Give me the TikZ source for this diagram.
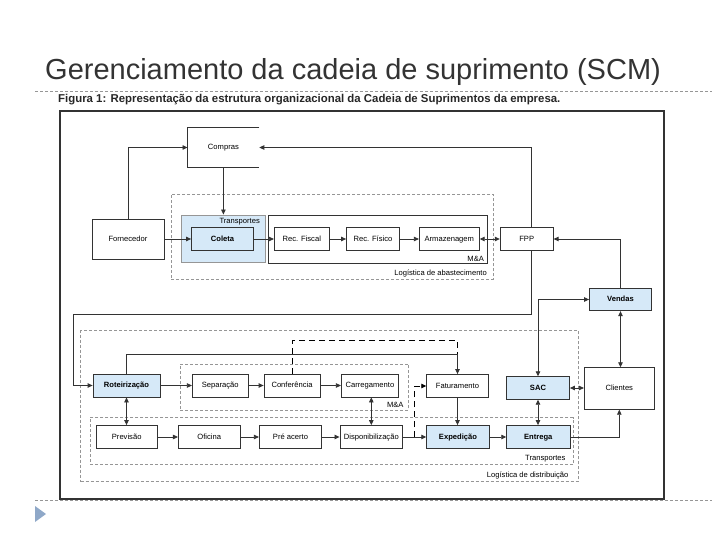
\documentclass[tikz,border=0pt]{standalone}
\usepackage{fontspec}
\setmainfont{Liberation Sans}
\usetikzlibrary{arrows.meta,calc}

\definecolor{azulclaro}{RGB}{214,233,248}
\definecolor{cinzaesc}{RGB}{51,51,51}
\definecolor{cinzatrac}{RGB}{150,150,150}
\definecolor{marcador}{RGB}{143,168,200}

\tikzset{
  seta/.tip={Triangle[length=5pt,width=4.5pt]},
  caixa/.style={draw=cinzaesc, line width=0.8pt, fill=white, inner sep=0pt,
    minimum height=23pt, text height=5.6pt, text depth=1.6pt, font=\fontsize{7.6}{9}\selectfont},
  caixaazul/.style={caixa, fill=azulclaro, font=\fontsize{7.6}{9}\selectfont\bfseries},
  grupo/.style={draw=cinzatrac, dash pattern=on 3pt off 2pt, line width=0.7pt, inner sep=0pt},
  rotulo/.style={font=\fontsize{7.6}{9}\selectfont, inner sep=0pt},
  liga/.style={draw=cinzaesc, line width=0.8pt, -seta},
  ligadupla/.style={draw=cinzaesc, line width=0.8pt, seta-seta},
  tracejado/.style={draw=black, line width=0.8pt, dash pattern=on 6pt off 4pt},
}

\begin{document}
\begin{tikzpicture}[x=1pt,y=-1pt]
	\useasboundingbox (0,0) rectangle (720,540);
	% slide
	\node [anchor=base west, inner sep=0pt, text=cinzaesc, font=\fontsize{29}{34}\selectfont] (titulo) at (45,80) {Gerenciamento da cadeia de suprimento (SCM)};
	\draw [cinzatrac, dash pattern=on 3pt off 2pt, line width=0.6pt] (35,91) -- (712,91);
	\draw [cinzatrac, dash pattern=on 3pt off 2pt, line width=0.6pt] (35,500) -- (712,500);
	\fill [marcador] (35,506) -- (46,514) -- (35,522) -- cycle;
	% figura
	\draw [cinzaesc, line width=1.6pt, fill=white] (60,111) rectangle (664,499);
	\node [anchor=base west, inner sep=0pt, text=black!85, font=\fontsize{11.4}{13}\selectfont\bfseries] (legenda) at (58,103) {Figura 1: Representação da estrutura organizacional da Cadeia de Suprimentos da empresa.};

	% grupos
	\node [grupo, minimum width=322pt, minimum height=85pt] (abast) at (332.2,236.8) {};
	\node [draw=cinzatrac, fill=azulclaro, line width=0.8pt, inner sep=0pt, minimum width=84.7pt, minimum height=47.7pt] (transp1) at (223.3,238.8) {};
	\node [draw=cinzaesc, line width=0.8pt, inner sep=0pt, minimum width=219.4pt, minimum height=48pt] (mea1) at (378,239) {};
	\node [grupo, minimum width=497.6pt, minimum height=151pt] (dist) at (329.5,406.2) {};
	\node [grupo, minimum width=228.3pt, minimum height=46pt] (mea2) at (294.2,387) {};
	\node [grupo, minimum width=483.3pt, minimum height=46.8pt] (transp2) at (331.7,441.1) {};

	\node [rotulo, anchor=south east] at ([shift={(-6.5pt,2pt)}]abast.south east) {Logística de abastecimento};
	\node [rotulo, anchor=north east] at ([shift={(-6pt,-4pt)}]transp1.north east) {Transportes};
	\node [rotulo, anchor=south east] at ([shift={(-4pt,2pt)}]mea1.south east) {M\&A};
	\node [rotulo, anchor=south east] at ([shift={(-10pt,3pt)}]dist.south east) {Logística de distribuição};
	\node [rotulo, anchor=south east] at ([shift={(-5pt,3pt)}]mea2.south east) {M\&A};
	\node [rotulo, anchor=south east] at ([shift={(-8pt,2.5pt)}]transp2.south east) {Transportes};

	% caixas de cima
	\node [caixa, draw=none, fill=none, minimum width=71pt, minimum height=39pt] (compras) at (223.4,147.5) {Compras};
	\draw [cinzaesc, line width=0.8pt] (compras.north east) -- (compras.north west) -- (compras.south west) -- (compras.south east);
	\node [caixa, minimum width=72pt, minimum height=40pt] (fornecedor) at (128,239) {Fornecedor};
	\node [caixaazul, minimum width=62pt] (coleta) at (222.5,239) {Coleta};
	\node [caixa, minimum width=55pt] (recfiscal) at (301.8,239) {Rec. Fiscal};
	\node [caixa, minimum width=53pt] (recfisico) at (373,239) {Rec. Físico};
	\node [caixa, minimum width=60pt] (armazenagem) at (449.3,239) {Armazenagem};
	\node [caixa, minimum width=53pt] (fpp) at (526.7,239) {FPP};
	\node [caixaazul, minimum width=62pt, minimum height=22.5pt] (vendas) at (620.5,299.5) {Vendas};
	\node [caixa, minimum width=70pt, minimum height=41.6pt] (clientes) at (619.3,388.5) {Clientes};
	\node [caixaazul, minimum width=63pt, minimum height=22.6pt] (sac) at (538,388) {SAC};

	% distribuicao
	\node [caixaazul, minimum width=67pt] (rot) at (126.5,385.5) {Roteirização};
	\node [caixa, minimum width=56pt] (separacao) at (220.3,385.5) {Separação};
	\node [caixa, minimum width=56pt] (conferencia) at (292,385.5) {Conferência};
	\node [caixa, minimum width=57.4pt] (carregamento) at (370,385.5) {Carregamento};
	\node [caixa, minimum width=61.6pt] (faturamento) at (457.5,386) {Faturamento};
	\node [caixa, minimum width=61.3pt] (previsao) at (126.7,437) {Previsão};
	\node [caixa, minimum width=61.7pt] (oficina) at (209.2,437) {Oficina};
	\node [caixa, minimum width=62.4pt] (preacerto) at (290.5,437) {Pré acerto};
	\node [caixa, minimum width=62.7pt] (disp) at (371.3,437) {Disponibilização};
	\node [caixaazul, minimum width=62.6pt] (expedicao) at (458,437) {Expedição};
	\node [caixaazul, minimum width=63.3pt] (entrega) at (538.3,437) {Entrega};

	% ligacoes de cima
	\draw [liga] (fornecedor.north) |- (compras.west);
	\draw [liga] ([xshift=5pt]fpp.north) |- (compras.east);
	\draw [liga] (compras.south) -- (compras.south |- transp1.north);
	\draw [liga] (fornecedor.east) -- (coleta.west);
	\foreach \a/\b in {coleta/recfiscal, recfiscal/recfisico, recfisico/armazenagem}
		\draw [liga] (\a.east) -- (\b.west);
	\draw [ligadupla] (armazenagem.east) -- (fpp.west);
	\draw [liga] (vendas.north) |- (fpp.east);
	\coordinate (retorno) at (73,314);
	\draw [liga] ([xshift=5pt]fpp.south) |- (retorno) |- (rot.west);

	% clientes
	\draw [ligadupla] (sac.north) |- (vendas.west);
	\draw [ligadupla] (vendas.south) -- (vendas.south |- clientes.north);
	\draw [ligadupla] (sac.east) -- (sac.east -| clientes.west);
	\draw [ligadupla] (sac.south) -- (sac.south |- entrega.north);
	\draw [liga] (entrega.east) -| (clientes.south);

	% ligacoes de baixo
	\foreach \a/\b in {rot/separacao, separacao/conferencia, conferencia/carregamento}
		\draw [liga] (\a.east) -- (\b.west);
	\foreach \a/\b in {previsao/oficina, oficina/preacerto, preacerto/disp, disp/expedicao, expedicao/entrega}
		\draw [liga] (\a.east) -- (\b.west);
	\draw [ligadupla] (rot.south) -- (rot.south |- previsao.north);
	\draw [ligadupla] (disp.north) -- (disp.north |- carregamento.south);
	\draw [liga] (rot.north) -- ++(0,-19) -| (faturamento.north);
	\draw [tracejado] (conferencia.north) -- ++(0,-33) -| ([yshift=20pt]faturamento.north);
	\draw [tracejado, -seta] ($(disp.east)!0.5!(expedicao.west)$) |- (faturamento.west);
	\draw [liga] (faturamento.south) -- (faturamento.south |- expedicao.north);
\end{tikzpicture}
\end{document}
